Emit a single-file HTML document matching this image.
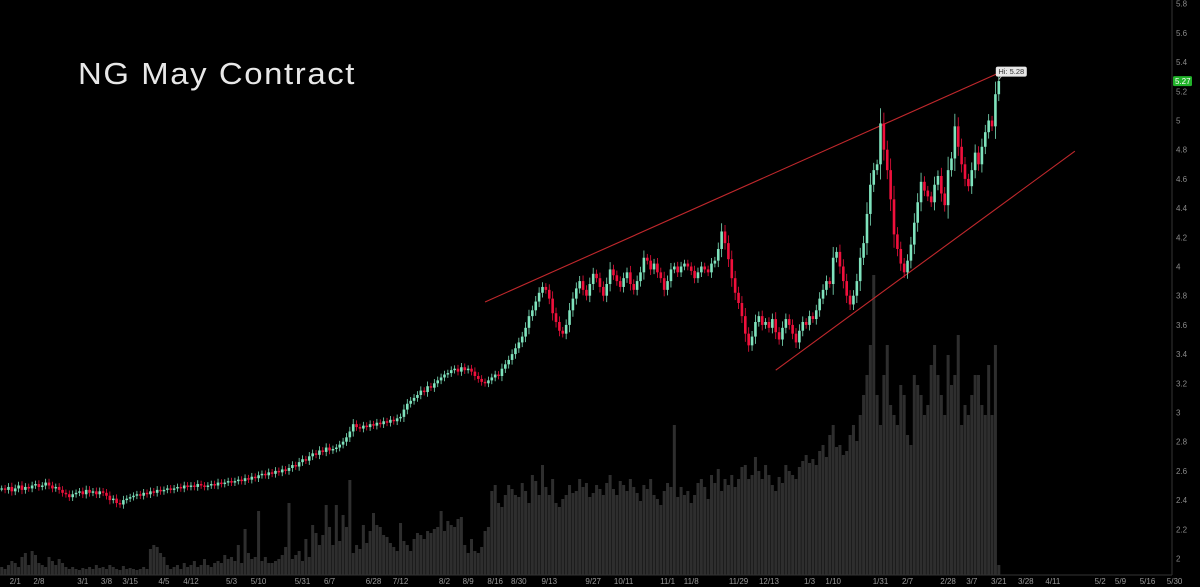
<!DOCTYPE html>
<html><head><meta charset="utf-8"><style>
html,body{margin:0;padding:0;background:#000;}
svg{display:block;}
text{font-family:"Liberation Sans",sans-serif;}
</style></head><body>
<svg id="chart" width="1200" height="587" viewBox="0 0 1200 587" xmlns="http://www.w3.org/2000/svg">
<rect x="0" y="0" width="1200" height="587" fill="#000"/>
<text x="78" y="84" font-size="31" fill="#e8e8e8" letter-spacing="1.5" textLength="278" lengthAdjust="spacingAndGlyphs">NG May Contract</text>
<g id="vol"></g>
<g id="lines"></g>
<g id="candles"></g>
<line x1="1172" y1="0" x2="1172" y2="575" stroke="#333"/>
<line x1="0" y1="575" x2="1172" y2="575" stroke="#333"/>
<g id="yaxis"></g>
<g id="xaxis"></g>
<g id="tags"></g>
</svg>
<script>
const closes = [
2.48,2.47,2.49,2.46,2.48,2.50,2.47,2.49,2.48,2.50,
2.51,2.49,2.50,2.52,2.50,2.48,2.49,2.47,2.45,2.44,
2.42,2.44,2.45,2.46,2.44,2.47,2.45,2.46,2.44,2.46,
2.45,2.43,2.40,2.41,2.38,2.37,2.40,2.41,2.42,2.43,
2.44,2.43,2.45,2.44,2.46,2.45,2.47,2.46,2.47,2.48,
2.47,2.48,2.49,2.48,2.50,2.49,2.50,2.49,2.51,2.50,
2.49,2.50,2.51,2.50,2.52,2.51,2.52,2.53,2.52,2.53,
2.54,2.53,2.55,2.54,2.56,2.55,2.57,2.58,2.57,2.59,
2.58,2.60,2.59,2.61,2.60,2.62,2.64,2.63,2.66,2.68,
2.67,2.70,2.72,2.71,2.74,2.73,2.76,2.74,2.75,2.76,
2.78,2.80,2.83,2.87,2.92,2.90,2.89,2.91,2.90,2.92,
2.91,2.93,2.92,2.94,2.93,2.95,2.94,2.96,2.97,3.02,
3.06,3.08,3.10,3.12,3.15,3.14,3.18,3.17,3.20,3.22,
3.24,3.26,3.27,3.29,3.30,3.28,3.31,3.29,3.30,3.28,
3.25,3.23,3.21,3.20,3.22,3.24,3.26,3.25,3.30,3.33,
3.36,3.40,3.44,3.48,3.52,3.58,3.66,3.70,3.76,3.82,
3.86,3.84,3.78,3.68,3.62,3.56,3.54,3.60,3.70,3.78,
3.85,3.90,3.84,3.80,3.88,3.95,3.92,3.86,3.80,3.88,
3.98,3.94,3.90,3.86,3.92,3.96,3.88,3.84,3.90,3.96,
4.06,4.04,3.98,4.02,3.96,3.92,3.84,3.90,3.98,4.00,
3.96,4.00,4.02,4.00,3.97,3.92,3.96,4.00,3.98,3.96,
4.02,4.04,4.12,4.24,4.16,4.05,3.92,3.82,3.75,3.66,
3.54,3.46,3.52,3.62,3.66,3.60,3.62,3.58,3.64,3.55,
3.50,3.58,3.64,3.60,3.54,3.48,3.56,3.62,3.60,3.66,
3.64,3.70,3.78,3.84,3.90,3.88,4.06,4.10,4.00,3.90,
3.80,3.74,3.80,3.90,4.06,4.16,4.36,4.56,4.66,4.70,
4.98,4.80,4.66,4.46,4.22,4.12,4.02,3.96,4.04,4.15,
4.30,4.44,4.58,4.52,4.48,4.44,4.56,4.62,4.50,4.42,
4.66,4.74,4.96,4.82,4.70,4.60,4.55,4.66,4.78,4.70,
4.82,4.92,5.00,4.96,5.18,5.27];
const volumes = [
8,6,10,14,12,8,18,22,10,24,
20,12,10,8,18,14,10,16,12,8,
6,8,6,5,7,6,8,6,10,7,
8,6,10,8,6,5,9,6,7,6,
5,6,8,6,26,30,28,22,18,10,
6,8,10,6,12,8,10,14,8,10,
16,10,8,12,14,12,20,16,18,14,
30,12,46,22,16,18,64,14,18,12,
12,14,16,20,28,72,16,20,24,14,
36,18,50,42,30,40,70,48,30,70,
34,60,48,95,22,30,26,50,32,44,
62,50,48,40,38,32,28,24,52,34,
30,24,36,42,40,36,44,42,46,48,
64,44,54,50,48,56,58,30,22,36,
24,22,28,44,48,84,90,72,68,80,
90,86,80,78,92,84,72,100,94,80,
110,88,80,96,72,68,76,80,90,82,
84,96,88,92,78,82,90,86,80,92,
100,86,80,94,90,84,96,88,82,74,
90,86,96,80,76,70,84,92,88,150,
78,88,80,84,72,80,92,96,88,76,
100,92,106,84,96,90,100,88,96,108,
110,96,100,118,104,96,110,100,90,84,
98,92,110,104,100,96,108,114,120,112,
116,110,124,130,118,140,150,128,130,120,
124,140,150,134,160,180,200,230,300,180,
150,200,230,170,160,150,190,180,140,130,
200,190,180,160,170,210,230,200,180,160,
220,190,200,240,150,170,160,180,200,200,
170,160,210,160,230,10];
const priceTicks = [5.8,5.6,5.4,5.2,5,4.8,4.6,4.4,4.2,4,3.8,3.6,3.4,3.2,3,2.8,2.6,2.4,2.2,2];
const dateLabels = ["2/1","2/8","3/1","3/8","3/15","4/5","4/12","5/3","5/10","5/31","6/7","6/28","7/12","8/2","8/9","8/16","8/30","9/13","9/27","10/11","11/1","11/8","11/29","12/13","1/3","1/10","1/31","2/7","2/28","3/7","3/21","3/28","4/11","5/2","5/9","5/16","5/30"];
const dateIndex = [4,11,24,31,38,48,56,68,76,89,97,110,118,131,138,146,153,162,175,184,197,204,218,227,239,246,260,268,280,287,295,303,311,325,331,339,347];
const upperLineIdx = [143,295];
const upperLinePx = [3.757,5.325];
const lowerLineIdx = [229,317.5];
const lowerLinePx = [3.29,4.79];
const hiValue = 5.28;

const NS="http://www.w3.org/2000/svg";
const STEP=3.38, X0=1.7;
const xs=i=>X0+i*STEP;
const ys=p=>120.5+(5-p)*146;
const vy=v=>575-v;
function mk(tag,attrs,parent){const e=document.createElementNS(NS,tag);for(const k in attrs)e.setAttribute(k,attrs[k]);parent.appendChild(e);return e;}

const gv=document.getElementById('vol');
volumes.forEach((v,i)=>{
  const r=mk('rect',{x:xs(i)-1.5,y:vy(v),width:3,height:v,fill:'#2e2e2e'},gv);
  
  
});

const gc=document.getElementById('candles');
closes.forEach((c,i)=>{
  const o=i===0?c:closes[i-1];
  const up=c>=o;
  const col=up?'#7fe3bd':'#f0103c';
  const rng=Math.abs(c-o);
  const hi=Math.max(o,c)+0.02+rng*0.3, lo=Math.min(o,c)-0.02-rng*0.3;
  const w=mk('line',{x1:xs(i),x2:xs(i),y1:ys(hi),y2:ys(lo),stroke:col,'stroke-width':0.8},gc);
  
  
  const top=ys(Math.max(o,c)), h=Math.max(1.2,ys(Math.min(o,c))-top);
  const b=mk('rect',{x:xs(i)-1.3,y:top,width:2.6,height:h,fill:col},gc);
  
  
});

const gl=document.getElementById('lines');
const u=mk('line',{x1:xs(upperLineIdx[0]),y1:ys(upperLinePx[0]),x2:xs(upperLineIdx[1]),y2:ys(upperLinePx[1]),stroke:'#c0282c','stroke-width':1.1},gl);


const l=mk('line',{x1:xs(lowerLineIdx[0]),y1:ys(lowerLinePx[0]),x2:xs(lowerLineIdx[1]),y2:ys(lowerLinePx[1]),stroke:'#c0282c','stroke-width':1.1},gl);



const gy=document.getElementById('yaxis');
priceTicks.forEach(p=>{
  const t=mk('text',{x:1176,y:ys(p)+3,'font-size':8,fill:'#8a8a8a'},gy);
  t.textContent=String(p);
  
  
});
const gx=document.getElementById('xaxis');
dateLabels.forEach((d,i)=>{
  const t=mk('text',{x:xs(dateIndex[i]),y:584,'font-size':8,fill:'#9a9a9a','text-anchor':'middle'},gx);
  t.textContent=d;
  
  
});

const gt=document.getElementById('tags');
const last=closes[closes.length-1];
const tr=mk('rect',{x:1173,y:ys(last)-5,width:19,height:10,rx:1.5,fill:'#21b32a'},gt);


const tt=mk('text',{x:1175,y:ys(last)+3,'font-size':8,fill:'#fff'},gt);
tt.textContent=last.toFixed(2);


const hx=xs(closes.length-1), hy=ys(hiValue);
const hl=mk('line',{x1:hx,y1:hy,x2:hx+4,y2:hy-5,stroke:'#ccc','stroke-width':0.8},gt);


const hr=mk('rect',{x:hx-3,y:hy-13,width:31,height:10,rx:2,fill:'#e6e6e6'},gt);


const ht=mk('text',{x:hx+12.5,y:hy-5.5,'font-size':7.5,fill:'#333','text-anchor':'middle'},gt);
ht.textContent='Hi: '+hiValue.toFixed(2);


</script>
</body></html>
